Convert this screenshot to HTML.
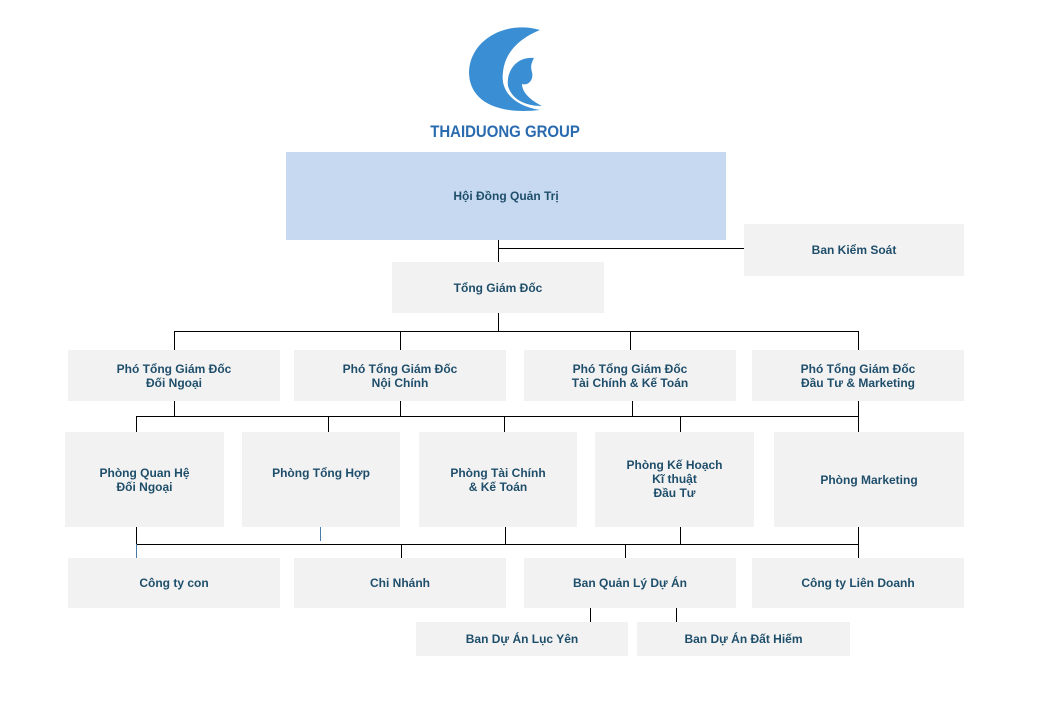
<!DOCTYPE html>
<html><head><meta charset="utf-8"><style>
body{margin:0;width:1040px;height:720px;background:#fff;position:relative;overflow:hidden;font-family:"Liberation Sans",Arial,sans-serif}
.b{position:absolute;background:#f2f2f2;display:flex;align-items:center;justify-content:center;text-align:center;color:#1f4e6b;font-weight:bold;font-size:12px;line-height:14px}
svg{position:absolute;left:0;top:0}
</style></head><body>
<svg width="1040" height="720">
<g fill="#3a8fd4">
<path d="M540 30 C505 20 470 40 469 72 C469 100 495 115 540 110 C515 106 500 92 503 72 C505 52 520 38 540 30Z"/>
<path d="M534 58 C516 56 506 72 508 86 C512 100 526 106 542 106 C530 100 522 92 522 84 C528 86 534 80 532 72 C530 66 532 62 534 58Z"/>
</g>
<g stroke="#000" stroke-width="1" fill="none" shape-rendering="crispEdges">
<path d="M498.5 240V262M498.5 248.5H744"/>
<path d="M498.5 313V331.5M174.5 331.5H858.5M174.5 331V350M400.5 331V350M630.5 331V350M858.5 331V350"/>
<path d="M174.5 401V416.5M400.5 401V416.5M632.5 401V416.5M858.5 401V416.5M136.5 416.5H858.5M136.5 416V432M328.5 416V432M504.5 416V432M680.5 416V432M858.5 416V432"/>
<path d="M136.5 527V544.5M505.5 527V544M680.5 527V544M858.5 527V544M136.5 544.5H858.5M401.5 544V558M625.5 544V558M858.5 544V558"/>
<path d="M590.5 608V622M676.5 608V622"/>
</g>
<path d="M320.5 527V541M136.5 544V558" stroke="#4a7aa8" stroke-width="1" shape-rendering="crispEdges"/>
</svg>
<div style="position:absolute;left:405px;top:122px;width:200px;text-align:center;color:#2a6bb0;font-weight:bold;font-size:17px;white-space:nowrap;transform:scaleX(0.88)">THAIDUONG GROUP</div>
<div class="b" style="left:286px;top:152px;width:440px;height:88px;background:#c6d9f0">Hội Đồng Quản Trị</div>
<div class="b" style="left:744px;top:224px;width:220px;height:52px">Ban Kiểm Soát</div>
<div class="b" style="left:392px;top:262px;width:212px;height:51px">Tổng Giám Đốc</div>
<div class="b" style="left:68px;top:350px;width:212px;height:51px">Phó Tổng Giám Đốc<br>Đối Ngoại</div>
<div class="b" style="left:294px;top:350px;width:212px;height:51px">Phó Tổng Giám Đốc<br>Nội Chính</div>
<div class="b" style="left:524px;top:350px;width:212px;height:51px">Phó Tổng Giám Đốc<br>Tài Chính &amp; Kế Toán</div>
<div class="b" style="left:752px;top:350px;width:212px;height:51px">Phó Tổng Giám Đốc<br>Đầu Tư &amp; Marketing</div>
<div class="b" style="left:65px;top:432px;width:159px;height:95px;align-items:flex-start"><div style="margin-top:34px">Phòng Quan Hệ<br>Đối Ngoại</div></div>
<div class="b" style="left:242px;top:432px;width:158px;height:95px;align-items:flex-start"><div style="margin-top:34px">Phòng Tổng Hợp</div></div>
<div class="b" style="left:419px;top:432px;width:158px;height:95px;align-items:flex-start"><div style="margin-top:34px">Phòng Tài Chính<br>&amp; Kế Toán</div></div>
<div class="b" style="left:595px;top:432px;width:159px;height:95px;align-items:flex-start"><div style="margin-top:26px">Phòng Kế Hoạch<br>Kĩ thuật<br>Đầu Tư</div></div>
<div class="b" style="left:774px;top:432px;width:190px;height:95px">Phòng Marketing</div>
<div class="b" style="left:68px;top:558px;width:212px;height:50px">Công ty con</div>
<div class="b" style="left:294px;top:558px;width:212px;height:50px">Chi Nhánh</div>
<div class="b" style="left:524px;top:558px;width:212px;height:50px">Ban Quản Lý Dự Án</div>
<div class="b" style="left:752px;top:558px;width:212px;height:50px">Công ty Liên Doanh</div>
<div class="b" style="left:416px;top:622px;width:212px;height:34px">Ban Dự Án Lục Yên</div>
<div class="b" style="left:637px;top:622px;width:213px;height:34px">Ban Dự Án Đất Hiếm</div>
</body></html>
